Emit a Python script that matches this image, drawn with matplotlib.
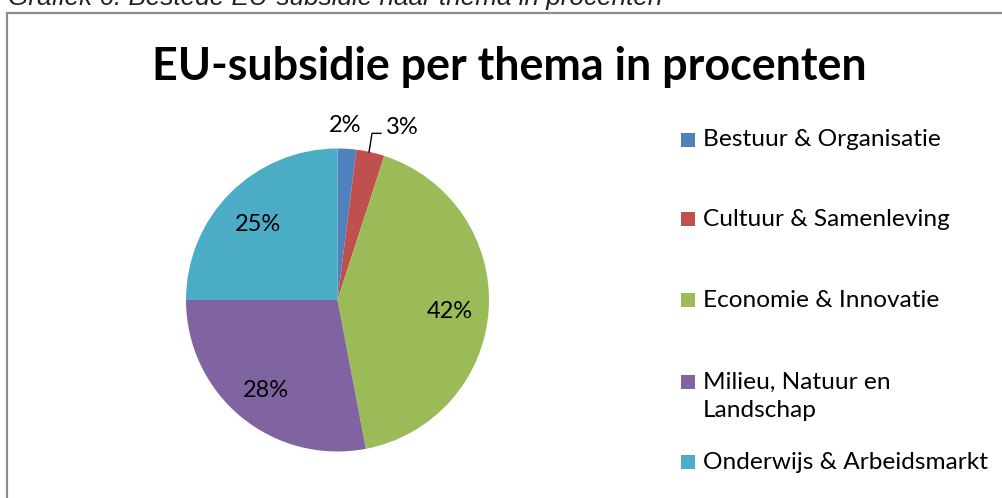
import matplotlib
matplotlib.use('Agg')
import matplotlib.pyplot as plt
from matplotlib.patches import Rectangle

# data
themes = ['Bestuur & Organisatie', 'Cultuur & Samenleving', 'Economie & Innovatie',
          'Milieu, Natuur en\nLandschap', 'Onderwijs & Arbeidsmarkt']
percent = [2, 3, 42, 28, 25]
colors = ['#4F81BD', '#C0504D', '#9BBB59', '#8064A2', '#4BACC6']

W, H = 1003, 498
fig = plt.figure(figsize=(W / 100, H / 100), dpi=100)
fig.patch.set_facecolor('white')

# caption above the chart box (cut off at the top)
fig.text(8 / W, 1 - 5 / H, 'Grafiek 6: Bestede EU-subsidie naar thema in procenten',
         fontsize=18.8, style='italic', family='Liberation Sans', color='#222222',
         ha='left', va='baseline')

# chart border
fig.patches.append(Rectangle((7.5 / W, -0.2), 1.2, 1.2 - 12.5 / H, transform=fig.transFigure,
                             fill=False, edgecolor='#8c8c8c', linewidth=1.6))

# title
fig.text(509.5 / W, 1 - 80 / H, 'EU-subsidie per thema in procenten', fontsize=32.3,
         fontweight='bold', family='Lato', ha='center', va='baseline')

# pie
cx, cy, r = 337.5, H - 300, 151.5
side = 400
ax = fig.add_axes([(cx - side / 2) / W, (cy - side / 2) / H, side / W, side / H])

wedges, texts, pcts = ax.pie(percent, colors=colors, startangle=90, counterclock=False,
                             autopct='%d%%', pctdistance=0.745,
                             wedgeprops=dict(linewidth=0),
                             textprops=dict(fontsize=17, family='Lato'))
lim = side / 2 / r
ax.set_xlim(-lim, lim)
ax.set_ylim(-lim, lim)
ax.set_aspect('equal')
ax.axis('off')

# inside labels sit a bit lower in the original
for t in pcts[2:]:
    x, y = t.get_position()
    t.set_position((x, y - 4 / r))

# small slices: labels outside
pcts[0].set_position((0.05, 1.15))
pcts[1].set_position((0.43, 1.14))
ax.plot([0.208, 0.228, 0.287], [0.977, 1.10, 1.10], color='black', lw=1)
for t in pcts:
    t.set_clip_on(False)

# legend
ys = [140, 219, 300, 382, 462]
for name, c, y in zip(themes, colors, ys):
    fig.patches.append(Rectangle((681 / W, 1 - (y + 7) / H), 14 / W, 14 / H,
                                 transform=fig.transFigure, facecolor=c, edgecolor='none'))
    for i, line in enumerate(name.split('\n')):
        fig.text(703 / W, 1 - (y + 28 * i) / H, line, fontsize=17.6, family='Lato',
                 ha='left', va='center')

fig.savefig('out.png', dpi=100, facecolor='white')
